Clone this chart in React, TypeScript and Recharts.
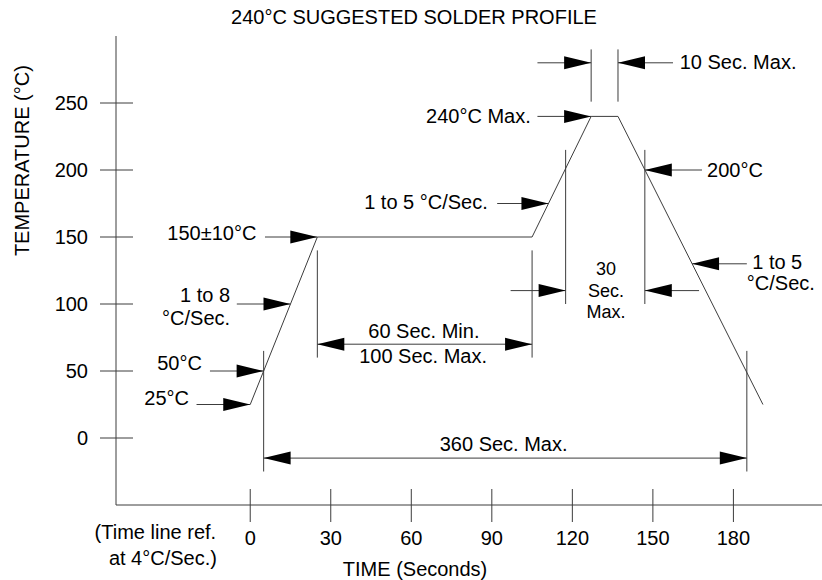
import { ComposedChart, Line, XAxis, YAxis, ReferenceLine, ReferenceDot } from 'recharts';

const FONT = '"Liberation Sans", Arial, sans-serif';
const INK = '#000';
const LINE = '#3c3c3c';

// profile vertices (time s, temperature °C)
const profileTime = [0, 25, 105, 127, 137, 191];
const profileTemp = [25, 150, 150, 240, 240, 25];

const timeTicks = [0, 30, 60, 90, 120, 150, 180];
const tempTicks = [0, 50, 100, 150, 200, 250];

const profile = profileTime.map((t, i) => ({ t, temp: profileTemp[i] }));

// extension lines: time, from temp, to temp
const guides: [number, number, number][] = [
  [5, 65, -25], [25, 140, 60], [105, 140, 60], [117.5, 215, 100],
  [147, 215, 100], [127, 290, 251], [137, 290, 251], [185, 65, -25],
];

type Arrow = { from: [number, number]; to: [number, number]; both?: boolean };
const arrows: Arrow[] = [
  { from: [107, 280], to: [127, 280] },
  { from: [157.5, 280], to: [137, 280] },
  { from: [107, 240], to: [127, 240] },
  { from: [92, 175], to: [111.1, 175] },
  { from: [168.3, 200], to: [147, 200] },
  { from: [185, 130], to: [164.6, 130] },
  { from: [5.5, 150], to: [25, 150] },
  { from: [-5, 100], to: [15, 100] },
  { from: [-15, 50], to: [5, 50] },
  { from: [-20, 25], to: [0, 25] },
  { from: [25, 70], to: [105, 70], both: true },
  { from: [5, -15], to: [185, -15], both: true },
  { from: [97, 110], to: [117.5, 110] },
  { from: [167.2, 110], to: [147, 110] },
];

type Note = { text: string; t: number; v: number; anchor: 'start' | 'middle' | 'end'; rotate?: boolean; size?: number };
const notes: Note[] = [
  { text: '240°C SUGGESTED SOLDER PROFILE', t: 61, v: 314, anchor: 'middle' },
  { text: 'TEMPERATURE (°C)', t: -85, v: 207, anchor: 'middle', rotate: true },
  { text: 'TIME (Seconds)', t: 61.4, v: -98, anchor: 'middle' },
  { text: '(Time line ref.', t: -12.7, v: -70, anchor: 'end' },
  { text: 'at 4°C/Sec.)', t: -12.4, v: -89.6, anchor: 'end' },
  { text: '10 Sec. Max.', t: 160, v: 280.5, anchor: 'start' },
  { text: '240°C Max.', t: 104.5, v: 240, anchor: 'end' },
  { text: '1 to 5 °C/Sec.', t: 88.5, v: 176, anchor: 'end' },
  { text: '200°C', t: 170.2, v: 200, anchor: 'start' },
  { text: '1 to 5', t: 187, v: 131.5, anchor: 'start' },
  { text: '°C/Sec.', t: 185, v: 115.7, anchor: 'start' },
  { text: '150±10°C', t: 2.3, v: 153, anchor: 'end' },
  { text: '1 to 8', t: -7.5, v: 106.7, anchor: 'end' },
  { text: '°C/Sec.', t: -7.5, v: 89.6, anchor: 'end' },
  { text: '50°C', t: -18, v: 56, anchor: 'end' },
  { text: '25°C', t: -22.8, v: 30, anchor: 'end' },
  { text: '60 Sec. Min.', t: 64.7, v: 80, anchor: 'middle' },
  { text: '100 Sec. Max.', t: 64.4, v: 61.2, anchor: 'middle' },
  { text: '360 Sec. Max.', t: 94.4, v: -4.5, anchor: 'middle' },
  { text: '30', t: 132.5, v: 126.1, anchor: 'middle', size: 18 },
  { text: 'Sec.', t: 132.5, v: 109.7, anchor: 'middle', size: 18 },
  { text: 'Max.', t: 132.5, v: 94, anchor: 'middle', size: 18 },
];

const textStyle = { fontSize: 20, fontFamily: FONT, fill: INK };

const YTick = ({ x, y, payload }: any) => (
  <g>
    <line x1={x - 16} x2={x + 17} y1={y} y2={y} stroke={LINE} />
    <text x={x - 28} y={y} textAnchor="end" dominantBaseline="central" {...textStyle}>
      {payload.value}
    </text>
  </g>
);

const XTick = ({ x, y, payload }: any) => (
  <g>
    <line x1={x} x2={x} y1={y - 16} y2={y + 17} stroke={LINE} />
    <text x={x} y={y + 33} textAnchor="middle" dominantBaseline="central" {...textStyle}>
      {payload.value}
    </text>
  </g>
);

const head = (tx: number, ty: number, fx: number, fy: number) => {
  const dx = tx - fx;
  const dy = ty - fy;
  const len = Math.hypot(dx, dy) || 1;
  const ux = dx / len;
  const uy = dy / len;
  const bx = tx - ux * 27;
  const by = ty - uy * 27;
  return `${tx},${ty} ${bx - uy * 6.5},${by + ux * 6.5} ${bx + uy * 6.5},${by - ux * 6.5}`;
};

const arrowShape = (both?: boolean) => (p: any) => (
  <g>
    <line x1={p.x1} y1={p.y1} x2={p.x2} y2={p.y2} stroke={LINE} strokeWidth={1} />
    <polygon points={head(p.x2, p.y2, p.x1, p.y1)} fill={INK} />
    {both && <polygon points={head(p.x1, p.y1, p.x2, p.y2)} fill={INK} />}
  </g>
);

const noteShape = (n: Note) => (p: any) => (
  <text
    x={p.cx}
    y={p.cy}
    textAnchor={n.anchor}
    dominantBaseline="central"
    transform={n.rotate ? `rotate(-90 ${p.cx} ${p.cy})` : undefined}
    {...textStyle}
    fontSize={n.size ?? 20}
  >
    {n.text}
  </text>
);

export default function App() {
  return (
    <div style={{ position: 'absolute', left: 0, top: 0, width: 822, height: 580, background: '#fff' }}>
      <ComposedChart width={822} height={580} data={profile} margin={{ top: 36, right: 0, bottom: 0, left: 56 }}>
        <XAxis
          dataKey="t"
          type="number"
          domain={[-50, 213]}
          ticks={timeTicks}
          interval={0}
          height={75}
          tickSize={0}
          tickMargin={0}
          tickLine={false}
          axisLine={{ stroke: LINE }}
          tick={<XTick />}
          allowDataOverflow
        />
        <YAxis
          type="number"
          domain={[-50, 300]}
          ticks={tempTicks}
          interval={0}
          width={60}
          tickSize={0}
          tickMargin={0}
          tickLine={false}
          axisLine={{ stroke: LINE }}
          tick={<YTick />}
          allowDataOverflow
        />
        {guides.map(([t, a, b], i) => (
          <ReferenceLine
            key={`g${i}`}
            segment={[{ x: t, y: a }, { x: t, y: b }]}
            stroke={LINE}
            strokeWidth={1}
            ifOverflow="visible"
          />
        ))}
        {arrows.map((a, i) => (
          <ReferenceLine
            key={`a${i}`}
            segment={[{ x: a.from[0], y: a.from[1] }, { x: a.to[0], y: a.to[1] }]}
            ifOverflow="visible"
            shape={arrowShape(a.both)}
          />
        ))}
        <Line
          dataKey="temp"
          type="linear"
          stroke={LINE}
          strokeWidth={1}
          dot={false}
          isAnimationActive={false}
        />
        {notes.map((n, i) => (
          <ReferenceDot key={`n${i}`} x={n.t} y={n.v} r={0} ifOverflow="visible" shape={noteShape(n)} />
        ))}
      </ComposedChart>
    </div>
  );
}
